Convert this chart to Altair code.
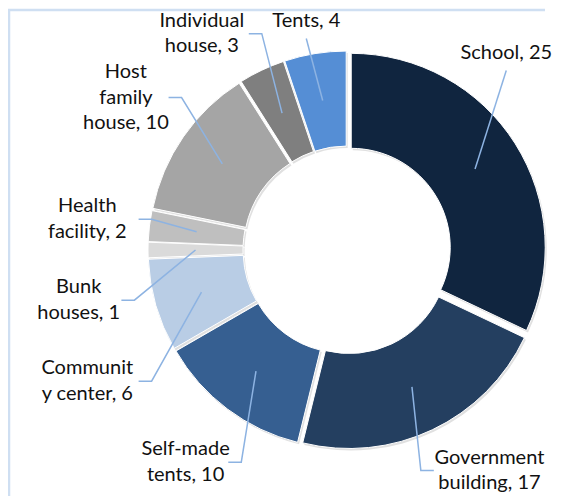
import math
import altair as alt
import pandas as pd

# ---------------- data ----------------
categories = ["School", "Government building", "Self-made tents", "Community center",
              "Bunk houses", "Health facility", "Host family house", "Individual house", "Tents"]
values = [25, 17, 10, 6, 1, 2, 10, 3, 4]
label_lines = [["School, 25"], ["Government", "building, 17"], ["Self-made", "tents, 10"],
               ["Communit", "y center, 6"], ["Bunk", "houses, 1"], ["Health", "facility, 2"],
               ["Host", "family", "house, 10"], ["Individual", "house, 3"], ["Tents, 4"]]
colors = ["#10253f", "#243f60", "#365f91", "#b9cde5", "#dadada",
          "#bfbfbf", "#a5a5a5", "#7f7f7f", "#558ed5"]

# ---------------- layout / style ----------------
W, H = 549, 488          # view size
OFF = 8                  # page margin (layout computed in page pixels)
CX, CY = 347, 250        # donut centre (page px)
R_IN, R_OUT = 99, 194
EXPLODE = 5
R_LAB = 230
XMIN, XMAX, YMIN, YMAX = 40, 550, 8, 496
LINE_H = 25.5
CHAR_W = 8.6
FONT = "Lato"
FONT_SIZE = 20
LEADER = "#8db3e2"
BORDER = "#cfdff2"

total = sum(values)
starts, ends, mids = [], [], []
acc = 0
for v in values:
    starts.append(acc)
    ends.append(acc + v)
    mids.append((acc + v / 2) / total * 2 * math.pi)
    acc += v

arc_df = pd.DataFrame({
    "cat": categories,
    "start": starts,
    "end": ends,
    "ax": [CX + EXPLODE * math.sin(t) - OFF for t in mids],
    "ay": [CY - EXPLODE * math.cos(t) - OFF for t in mids],
})

# ----- label placement (simple outside-label algorithm) -----
boxes = []
for i, t0 in enumerate(mids):
    lines = label_lines[i]
    w = max(len(s) for s in lines) * CHAR_W
    h = len(lines) * LINE_H

    def centre(r, t, w=w, h=h):
        return (CX + (r + w / 2) * math.sin(t), CY - (r + h / 2) * math.cos(t))

    def viol(c, w=w, h=h):
        x, y = c
        return (max(0, XMIN - (x - w / 2)) + max(0, x + w / 2 - XMAX)
                + max(0, YMIN - (y - h / 2)) + max(0, y + h / 2 - YMAX))

    c = centre(R_LAB, t0)
    s = abs(math.sin(t0))
    if viol(c) > 0:
        if s < 0.3:
            r = R_LAB
            while viol(c) > 0 and r > 0:
                r -= 0.5
                c = centre(r, t0)
        elif s < 0.95:
            found = None
            for k in range(1, 240):
                for d in (1, -1):
                    cc = centre(R_LAB, t0 + d * math.radians(0.25 * k))
                    if viol(cc) == 0:
                        found = cc
                        break
                if found:
                    break
            if found:
                c = found
    x, y = c
    x = min(max(x, XMIN + w / 2), XMAX - w / 2)
    y = min(max(y, YMIN + h / 2), YMAX - h / 2)
    boxes.append({"i": i, "x": x, "y": y, "w": w, "h": h, "t": t0})

# push labels of the left column apart (downwards)
left = sorted([b for b in boxes if math.sin(b["t"]) < -0.3 and b["x"] < CX - 150],
              key=lambda b: b["y"])
for a, b in zip(left, left[1:]):
    need = a["y"] + (a["h"] + b["h"]) / 2 + 30
    if b["y"] < need:
        b["y"] = need

text_rows, lead_rows = [], []
for b in boxes:
    i, x, y, w, h, t = b["i"], b["x"], b["y"], b["w"], b["h"], b["t"]
    n = len(label_lines[i])
    # Vega draws the first line at y and the others below it
    text_rows.append({"lab": "\n".join(label_lines[i]), "x": x - OFF,
                      "y": y - (n - 1) * LINE_H / 2 - OFF})
    rr = (R_IN + R_OUT) / 2 + EXPLODE
    rx, ry = CX + rr * math.sin(t), CY - rr * math.cos(t)
    if abs(x - rx) > w / 2 + 20:
        side = 1 if rx > x else -1
        e1 = x + side * (w / 2 + 4)
        pts = [(e1, y), (e1 + side * 13, y), (rx, ry)]
    else:
        ey = y + h / 2 + 5 if ry > y else y - h / 2 - 5
        pts = [(x, ey), (rx, ry)]
    for k, (px, py) in enumerate(pts):
        lead_rows.append({"lid": i, "k": k, "x": px - OFF, "y": py - OFF})

text_df = pd.DataFrame(text_rows)
lead_df = pd.DataFrame(lead_rows)

xs = alt.Scale(domain=[0, W], nice=False, zero=False)
ys = alt.Scale(domain=[0, H], nice=False, zero=False, reverse=True)
ts = alt.Scale(domain=[0, total], range=[0, 2 * math.pi])
cs = alt.Scale(domain=categories, range=colors)

shadow = alt.Chart(arc_df).transform_calculate(
    sx="datum.ax + 1.5", sy="datum.ay + 2"
).mark_arc(innerRadius=R_IN, outerRadius=R_OUT, color="#000000", opacity=0.12).encode(
    x=alt.X("sx:Q", scale=xs, axis=None),
    y=alt.Y("sy:Q", scale=ys, axis=None),
    theta=alt.Theta("start:Q", scale=ts),
    theta2="end:Q",
)

arcs = alt.Chart(arc_df).mark_arc(innerRadius=R_IN, outerRadius=R_OUT,
                                  stroke="white", strokeWidth=1).encode(
    x=alt.X("ax:Q", scale=xs, axis=None),
    y=alt.Y("ay:Q", scale=ys, axis=None),
    theta=alt.Theta("start:Q", scale=ts),
    theta2="end:Q",
    color=alt.Color("cat:N", scale=cs, legend=None),
)

leaders = alt.Chart(lead_df).mark_line(color=LEADER, strokeWidth=1.5).encode(
    x=alt.X("x:Q", scale=xs, axis=None),
    y=alt.Y("y:Q", scale=ys, axis=None),
    detail="lid:N",
    order="k:Q",
)

labels = alt.Chart(text_df).mark_text(
    font=FONT, fontSize=FONT_SIZE, color="#111111", align="center",
    baseline="middle", lineBreak="\n", lineHeight=LINE_H
).encode(
    x=alt.X("x:Q", scale=xs, axis=None),
    y=alt.Y("y:Q", scale=ys, axis=None),
    text="lab:N",
)

border_df = pd.DataFrame({"k": [0]})
border_left = alt.Chart(border_df).mark_rule(
    color=BORDER, strokeWidth=2.5).encode(
    x=alt.value(1), x2=alt.value(1), y=alt.value(2), y2=alt.value(H))
border_top = alt.Chart(border_df).mark_rule(
    color=BORDER, strokeWidth=2.5).encode(
    x=alt.value(0), x2=alt.value(W - 12), y=alt.value(2), y2=alt.value(2))

chart = alt.layer(border_left, border_top, shadow, arcs, leaders, labels).properties(
    width=W, height=H, padding=0, autosize=alt.AutoSizeParams(type="none"),
).configure_view(strokeWidth=0)

chart.save("out.html", embed_options={"renderer": "svg", "actions": False})
